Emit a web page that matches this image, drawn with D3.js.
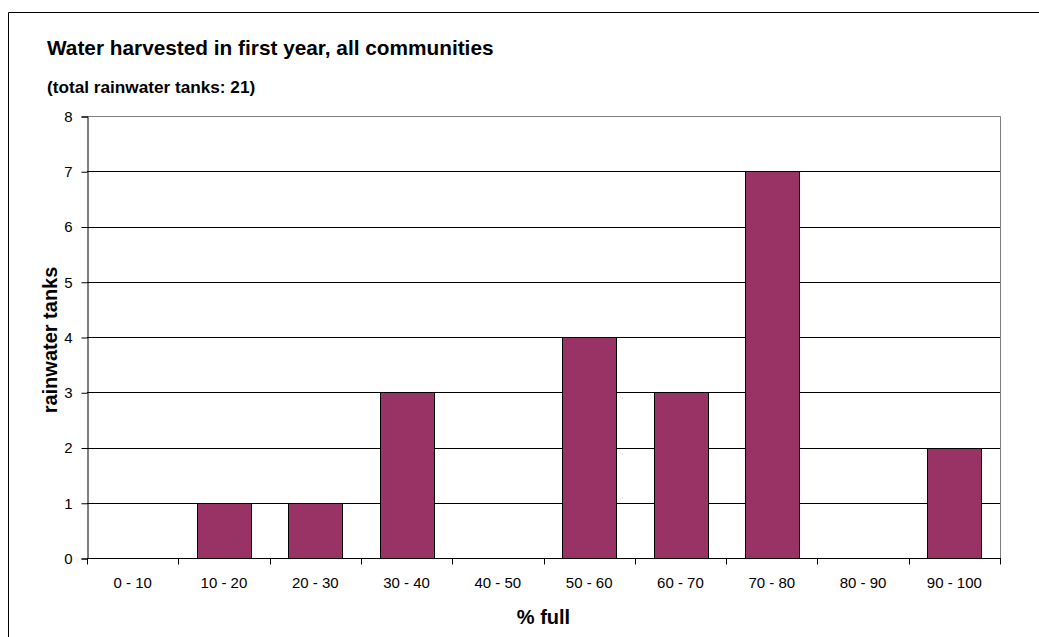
<!DOCTYPE html>
<html><head><meta charset="utf-8">
<script src="https://cdn.jsdelivr.net/npm/d3@7"></script>
<style>body{margin:0;background:#fff;} svg{display:block;font-family:"Liberation Sans",Arial,sans-serif;}</style>
</head><body>
<svg id="c" width="1039" height="637"></svg>
<script>
const categories = ["0 - 10","10 - 20","20 - 30","30 - 40","40 - 50","50 - 60","60 - 70","70 - 80","80 - 90","90 - 100"];
const values = [0,1,1,3,0,4,3,7,0,2];
const yTicks = [0,1,2,3,4,5,6,7,8];
const titleText = "Water harvested in first year, all communities";
const subtitleText = "(total rainwater tanks: 21)";
const xTitle = "% full";
const yTitle = "rainwater tanks";

const svg = d3.select("#c");
const L = 87, R = 1000, T = 116, B = 558;
const FONT = "Liberation Sans, Arial, sans-serif";

// outer border
svg.append("path").attr("d", `M8.5,637 L8.5,12.5 L1039,12.5`).attr("fill","none").attr("stroke","#000").attr("stroke-width",1);

svg.append("text").attr("x",47).attr("y",55).attr("font-size",20.8).attr("font-weight","bold").text(titleText);
svg.append("text").attr("x",47).attr("y",93).attr("font-size",17.2).attr("font-weight","bold").text(subtitleText);

const x = d3.scaleBand().domain(categories).range([L,R]).paddingInner(0.41).paddingOuter(0.205);
const xb = d3.scaleBand().domain(categories).range([L,R]).padding(0);
const y = d3.scaleLinear().domain([0,8]).range([B,T]);

// gridlines
svg.append("g").selectAll("line").data(yTicks.filter(d=>d>0 && d<8)).join("line")
  .attr("x1",L).attr("x2",R).attr("y1",d=>Math.round(y(d))+0.5).attr("y2",d=>Math.round(y(d))+0.5)
  .attr("stroke","#000").attr("stroke-width",1);

// plot frame (top & right gray)
svg.append("path").attr("d",`M${L},${T+0.5} L${R+0.5},${T+0.5} L${R+0.5},${B}`).attr("fill","none").attr("stroke","#808080").attr("stroke-width",1);

// bars
svg.append("g").selectAll("rect").data(values.map((v,i)=>({c:categories[i],v}))).join("rect")
  .attr("x",d=>Math.round(x(d.c))+0.5).attr("width",Math.round(x.bandwidth()))
  .attr("y",d=>Math.round(y(d.v))+0.5).attr("height",d=>Math.round(y(0))-Math.round(y(d.v)))
  .attr("fill","#993366").attr("stroke","#000").attr("stroke-width",1);

// y axis
const ya = d3.axisLeft(y).tickValues(yTicks).tickSize(6).tickPadding(9).tickFormat(d3.format("d"));
const yg = svg.append("g").attr("transform",`translate(${L+0.5},0.5)`).call(ya);
yg.attr("font-size",15).attr("font-family",FONT);
yg.select(".domain").attr("stroke","#000");
yg.selectAll("text").attr("fill","#000");

// x axis
const xg = svg.append("g").attr("transform",`translate(0,${B+0.5})`);
xg.append("line").attr("x1",L).attr("x2",R+1).attr("stroke","#000");
const bounds = categories.map(c=>xb(c)).concat([R]);
xg.selectAll("line.t").data(bounds).join("line").attr("class","t")
  .attr("x1",d=>Math.round(d)+0.5).attr("x2",d=>Math.round(d)+0.5).attr("y1",0).attr("y2",6).attr("stroke","#000");
xg.selectAll("text").data(categories).join("text")
  .attr("x",d=>xb(d)+xb.bandwidth()/2).attr("y",29.5).attr("text-anchor","middle").attr("font-size",15).text(d=>d);

svg.append("text").attr("x",543.5).attr("y",624).attr("text-anchor","middle").attr("font-size",20).attr("font-weight","bold").text(xTitle);
svg.append("text").attr("transform",`translate(57,${(T+B)/2 + 3}) rotate(-90)`).attr("text-anchor","middle").attr("font-size",20).attr("font-weight","bold").text(yTitle);
</script>
</body></html>
